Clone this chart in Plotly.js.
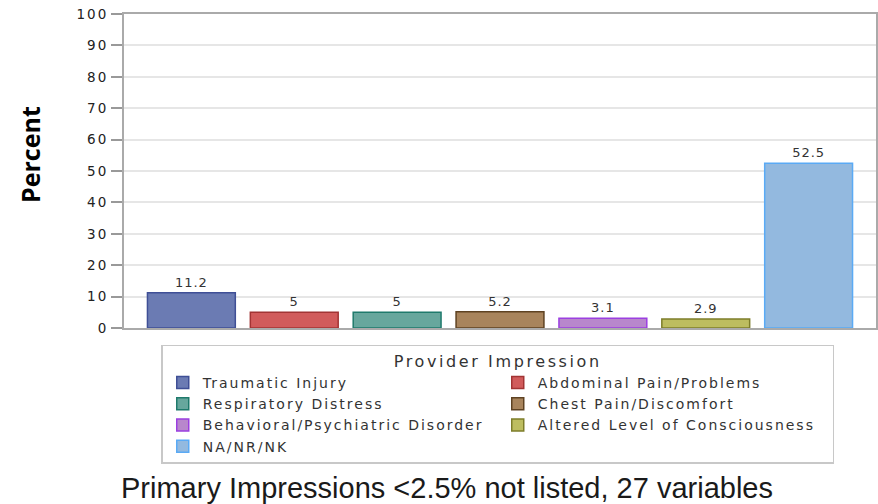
<!DOCTYPE html>
<html><head><meta charset="utf-8">
<script src="https://cdn.plot.ly/plotly-3.0.1.min.js"></script>
<style>
html,body{margin:0;padding:0;background:#fff;}
#chart{width:878px;height:504px;}
.legendtext{letter-spacing:2px;}
.legendtitletext{letter-spacing:2.6px;}
.ytick text{letter-spacing:2px;}
.bartext{letter-spacing:1px;}
</style></head><body><div id="chart"></div>
<script>
const categories = ['Traumatic Injury','Abdominal Pain/Problems','Respiratory Distress','Chest Pain/Discomfort','Behavioral/Psychiatric Disorder','Altered Level of Consciousness','NA/NR/NK'];
const percents = [11.2, 5, 5, 5.2, 3.1, 2.9, 52.5];
const valueLabels = ['11.2','5','5','5.2','3.1','2.9','52.5'];
const fillColors = ['#6b7bb3','#d15b5b','#67a79d','#a8845c','#b887cc','#bdbd60','#93b9df'];
const lineColors = ['#3f4f96','#a23434','#1f7a6c','#5e4222','#9b3fe0','#7d7d2a','#5aaaf5'];
const yTickValues = [0,10,20,30,40,50,60,70,80,90,100];
const legendTitle = 'Provider Impression';
const yTitle = 'Percent';
const footnote = 'Primary Impressions <2.5% not listed, 27 variables';

const chartFont = 'DejaVu Sans, Liberation Sans, Arial, sans-serif';

const traces = categories.map((c, i) => ({
  type: 'bar',
  x: [c],
  y: [percents[i]],
  name: c,
  text: [valueLabels[i]],
  textposition: 'outside',
  cliponaxis: false,
  width: 0.854,
  marker: {color: fillColors[i], line: {color: lineColors[i], width: 1.5}},
  textfont: {family: chartFont, size: 13, color: '#333'},
  hoverinfo: 'x+y'
}));

const layout = {
  width: 878, height: 504,
  margin: {l: 124, r: 2, t: 14, b: 176},
  paper_bgcolor: '#fff', plot_bgcolor: '#fff',
  barmode: 'overlay',
  showlegend: true,
  font: {family: chartFont, color: '#333'},
  xaxis: {
    type: 'category', categoryorder: 'array', categoryarray: categories,
    range: [-0.655, 6.655], showticklabels: false, ticks: '',
    showline: true, linecolor: '#aaaaaa', linewidth: 2, mirror: true,
    showgrid: false, zeroline: false
  },
  yaxis: {
    range: [0, 100], tickvals: yTickValues, ticks: 'outside', ticklen: 11,
    tickcolor: '#999', tickwidth: 1.5,
    showline: true, linecolor: '#aaaaaa', linewidth: 2, mirror: true,
    gridcolor: '#e6e6e6', gridwidth: 1.5, zeroline: false,
    tickfont: {family: chartFont, size: 13.5, color: '#222'}
  },
  legend: {
    orientation: 'h', x: 0.497, xanchor: 'center', y: -0.053, yanchor: 'top',
    bordercolor: '#c8c8c8', borderwidth: 1.5, bgcolor: '#fff',
    font: {family: chartFont, size: 14, color: '#333'},
    title: {text: legendTitle, side: 'top center', font: {family: chartFont, size: 16, color: '#333'}},
    entrywidth: 290, traceorder: 'normal'
  },
  annotations: [
    {text: '<b>' + yTitle + '</b>', xref: 'paper', yref: 'paper', x: -0.125, y: 0.551,
     xanchor: 'center', yanchor: 'middle', textangle: -90, showarrow: false,
     font: {family: 'Open Sans, Liberation Sans, sans-serif', size: 25, color: '#000'}},
    {text: footnote, xref: 'paper', yref: 'paper', x: -0.006, y: -0.51,
     xanchor: 'left', yanchor: 'middle', showarrow: false,
     font: {family: 'Liberation Sans, Arial, sans-serif', size: 29, color: '#1a1a1a'}}
  ]
};

Plotly.newPlot('chart', traces, layout, {displayModeBar: false, staticPlot: false});
</script></body></html>
